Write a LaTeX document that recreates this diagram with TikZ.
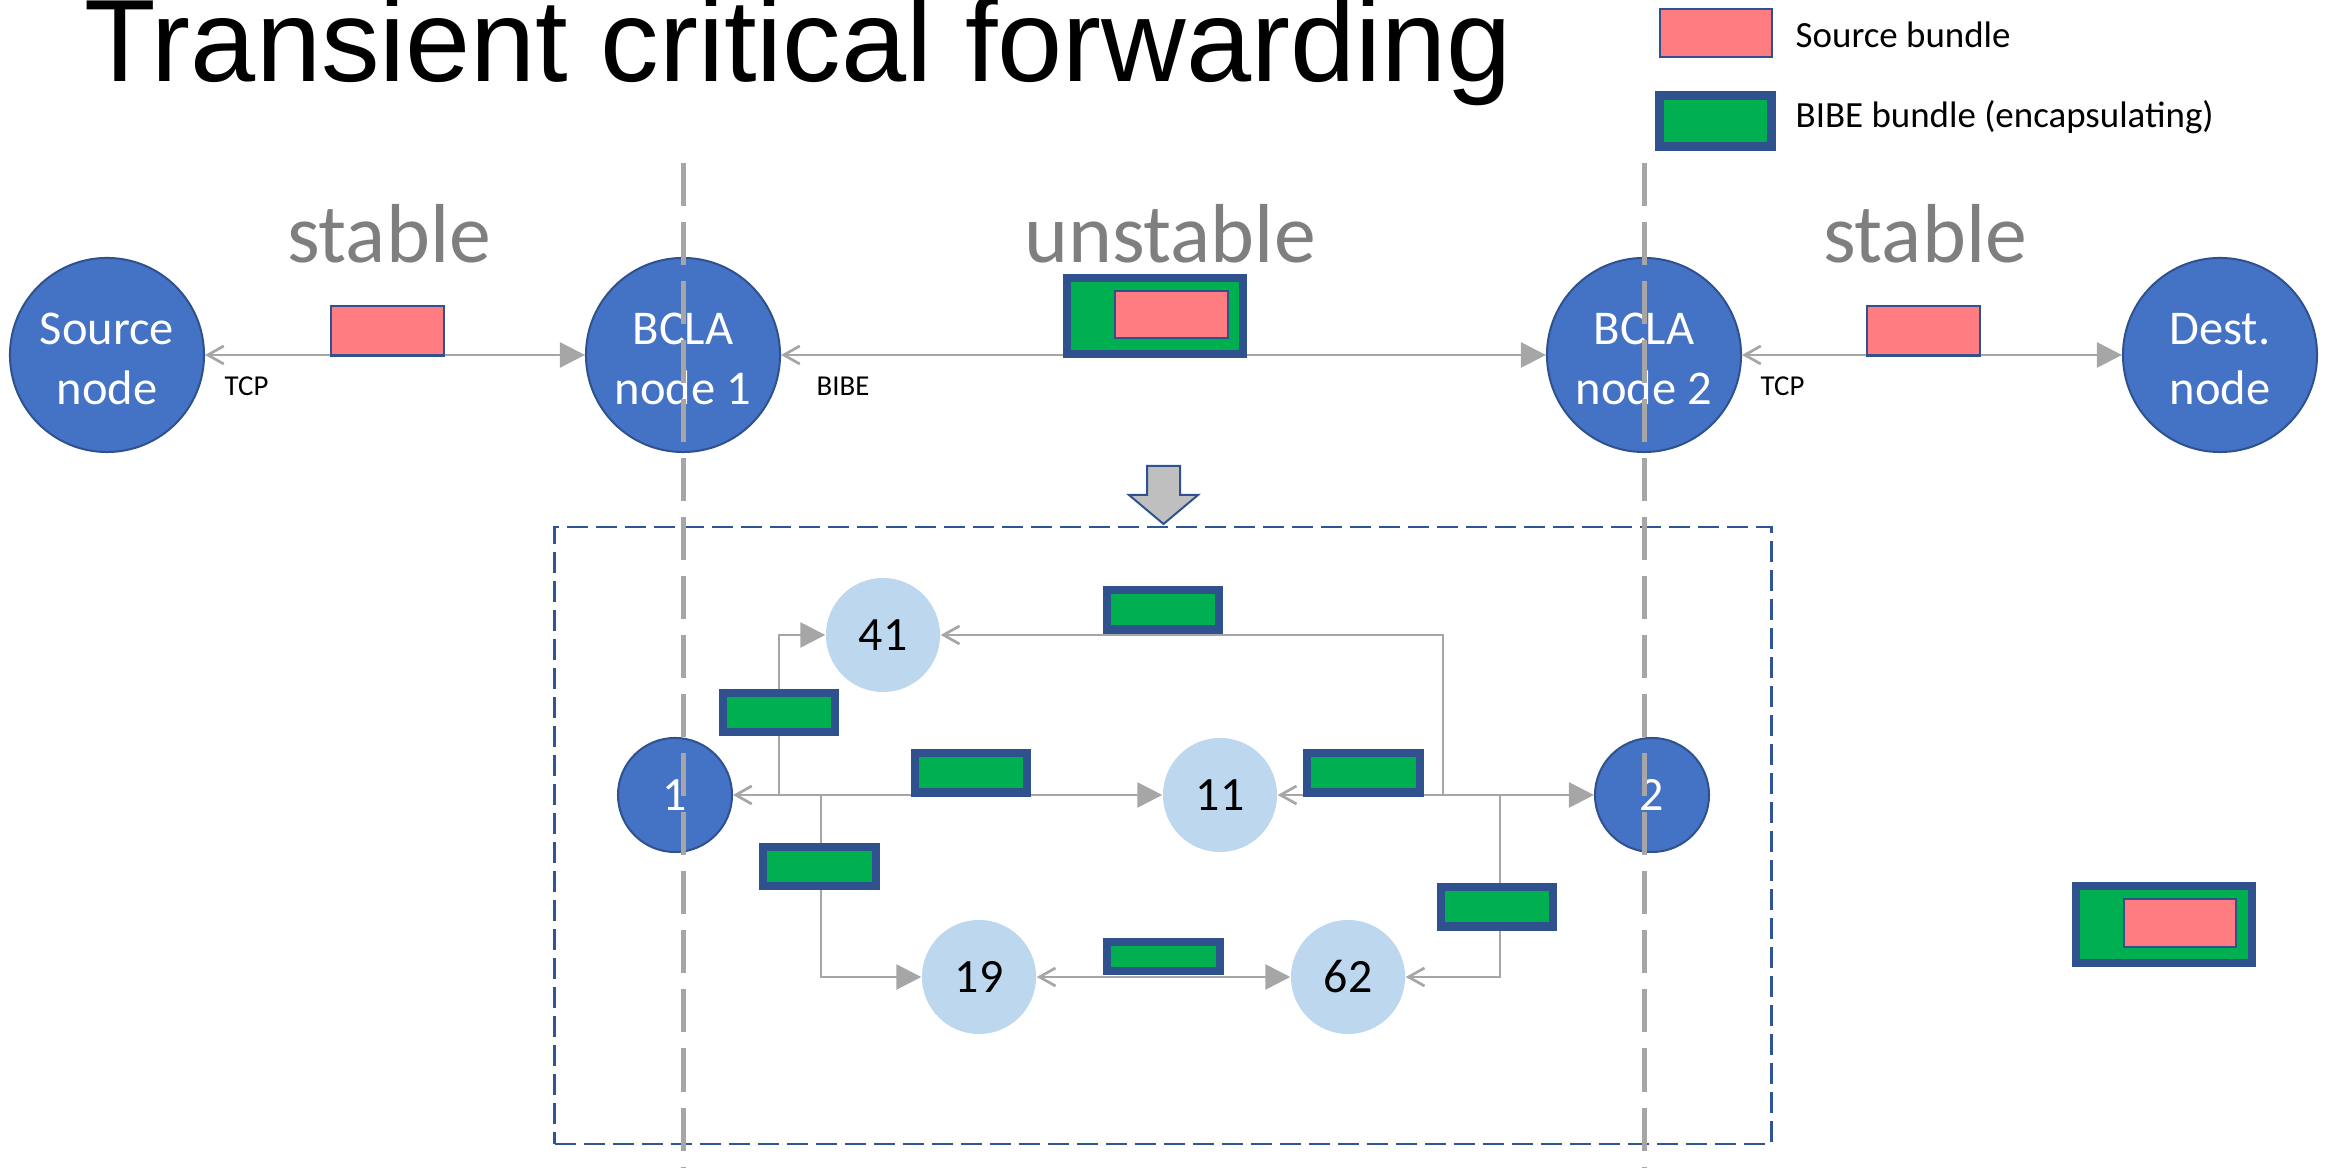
\documentclass[tikz,border=0pt]{standalone}
\usepackage{fontspec}
\setmainfont{Carlito}
\newfontfamily\titlefont{Liberation Sans}
\usetikzlibrary{arrows.meta}
\definecolor{nodeblue}{HTML}{4472C4}
\definecolor{borderblue}{HTML}{2F528F}
\definecolor{framblue}{HTML}{2F5597}
\definecolor{lightblue}{HTML}{BDD7EE}
\definecolor{bibegreen}{HTML}{00B050}
\definecolor{srcpink}{HTML}{FF7C80}
\definecolor{linegray}{HTML}{A6A6A6}
\definecolor{textgray}{HTML}{7F7F7F}
\definecolor{arrowgray}{HTML}{BFBFBF}
\begin{document}
\begin{tikzpicture}[x=0.01cm,y=-0.01cm,
  tri/.tip={Triangle[length=0.25cm,width=0.25cm]},
  barb/.tip={Straight Barb[length=0.16cm,width=0.18cm]},
  conn/.style={draw=linegray, line width=0.027cm},
  bignode/.style={circle, fill=nodeblue, draw=borderblue, line width=0.02cm,
    minimum size=1.94cm, inner sep=0pt, text=white, align=center,
    text height=28pt,
    font=\fontsize{13.8pt}{16.8pt}\selectfont},
  darknode/.style={circle, fill=nodeblue, draw=borderblue, line width=0.02cm,
    minimum size=1.14cm, inner sep=0pt, text=white,
    font=\fontsize{13.6pt}{16pt}\selectfont},
  lightnode/.style={circle, fill=lightblue, minimum size=1.14cm, inner sep=0pt,
    text=black, font=\fontsize{13.6pt}{16pt}\selectfont},
  pinkbox/.style={rectangle, fill=srcpink, draw=borderblue, line width=0.02cm,
    minimum width=1.13cm, minimum height=0.49cm, inner sep=0pt},
  greenbox/.style={rectangle, fill=bibegreen, draw=borderblue, line width=0.08cm,
    minimum width=1.12cm, minimum height=0.39cm, inner sep=0pt},
  encbox/.style={rectangle, fill=bibegreen, draw=borderblue, line width=0.08cm,
    minimum width=1.76cm, minimum height=0.76cm, inner sep=0pt},
  stablab/.style={anchor=base, inner sep=0pt, text=textgray,
    font=\fontsize{23.8pt}{28pt}\selectfont},
  smalllab/.style={anchor=base west, inner sep=0pt, text=black,
    font=\fontsize{8.2pt}{10pt}\selectfont},
  leglab/.style={anchor=base west, inner sep=0pt, text=black,
    font=\fontsize{10.5pt}{12pt}\selectfont},
  frame/.style={rectangle, draw=framblue, line width=0.025cm,
    dash pattern=on 0.21cm off 0.08cm, minimum width=12.16cm,
    minimum height=6.17cm, inner sep=0pt},
  divider/.style={draw=linegray, line width=0.05cm,
    dash pattern=on 0.43cm off 0.16cm}
]
\useasboundingbox (0,0) rectangle (2326,1168);

% title
\node[anchor=base west, inner sep=0pt,
  font=\titlefont\fontsize{33.3pt}{38pt}\selectfont] (title) at (84,82)
  {Transient critical forwarding};

% legend
\node[pinkbox, minimum width=1.12cm, minimum height=0.48cm] (legpink) at (1716,33) {};
\node[leglab] (legpinktxt) at (1795,48) {Source bundle};
\node[greenbox, line width=0.09cm, minimum width=1.12cm, minimum height=0.51cm]
  (leggreen) at (1715.5,121) {};
\node[leglab] (leggreentxt) at (1795,128) {BIBE bundle (encapsulating)};

% zone labels
\node[stablab] (st1) at (389,263) {stable};
\node[stablab] (unst) at (1170,263) {unstable};
\node[stablab] (st2) at (1925,263) {stable};

% top row nodes
\node[bignode] (src) at (107,355) {Source\\node};
\node[bignode] (b1) at (683,355) {BCLA\\node 1};
\node[bignode] (b2) at (1644,355) {BCLA\\node 2};
\node[bignode] (dst) at (2220,355) {Dest.\\node};

\draw[conn, barb-tri] (src) -- (b1);
\draw[conn, barb-tri] (b1) -- (b2);
\draw[conn, barb-tri] (b2) -- (dst);

\node[pinkbox] (p1) at (387.5,331) {};
\node[encbox] (e1) at (1155,316) {};
\node[pinkbox, minimum height=0.47cm] (p2) at (1171.5,314.5) {};
\node[pinkbox] (p3) at (1923.5,331) {};

\node[smalllab] (tcp1) at (224,396) {TCP};
\node[smalllab] (bibe) at (816,396) {BIBE};
\node[smalllab] (tcp2) at (1760,396) {TCP};

% down arrow
\draw[fill=arrowgray, draw=borderblue, line width=0.02cm]
  (1147,466) -- (1180,466) -- (1180,495) -- (1198,495) -- (1163.5,524)
  -- (1129,495) -- (1147,495) -- cycle;

% frame
\node[frame] (frm) at (1163,835.5) {};

% lower graph
\node[darknode] (n1) at (675,795) {1};
\node[lightnode] (n41) at (883,635) {41};
\node[lightnode] (n11) at (1220,795) {11};
\node[darknode] (n2) at (1652,795) {2};
\node[lightnode] (n19) at (979,977) {19};
\node[lightnode] (n62) at (1348,977) {62};

\coordinate (j1) at (779,795);
\coordinate (j2) at (821,795);
\coordinate (j3) at (1443,795);
\coordinate (j4) at (1500,795);

\draw[conn, barb-tri] (n1) -- (n11);
\draw[conn, -tri] (j1) |- (n41);
\draw[conn, -tri] (j2) |- (n19);
\draw[conn, barb-tri] (n19) -- (n62);
\draw[conn, barb-tri] (n11) -- (n2);
\draw[conn, -barb] (j3) |- (n41);
\draw[conn, -barb] (j4) |- (n62);

\node[greenbox] (g41) at (779,712.5) {};
\node[greenbox] (g111) at (971,773) {};
\node[greenbox] (g19) at (819.5,866.5) {};
\node[greenbox, minimum height=0.29cm] (g1962) at (1163.5,956.5) {};
\node[greenbox] (g112) at (1363.5,773) {};
\node[greenbox] (gtop) at (1163,610) {};
\node[greenbox] (g62) at (1497,907) {};

% encapsulated bundle (bottom right)
\node[encbox, minimum height=0.77cm] (e2) at (2164,924.5) {};
\node[pinkbox, minimum width=1.12cm, minimum height=0.48cm] (p4) at (2180,923) {};

% dividers
\coordinate (v1top) at (683,163);
\coordinate (v1bot) at (683,1168);
\coordinate (v2top) at (1644,163);
\coordinate (v2bot) at (1644,1168);
\draw[divider] (v1top) -- (v1bot);
\draw[divider] (v2top) -- (v2bot);
\end{tikzpicture}
\end{document}
